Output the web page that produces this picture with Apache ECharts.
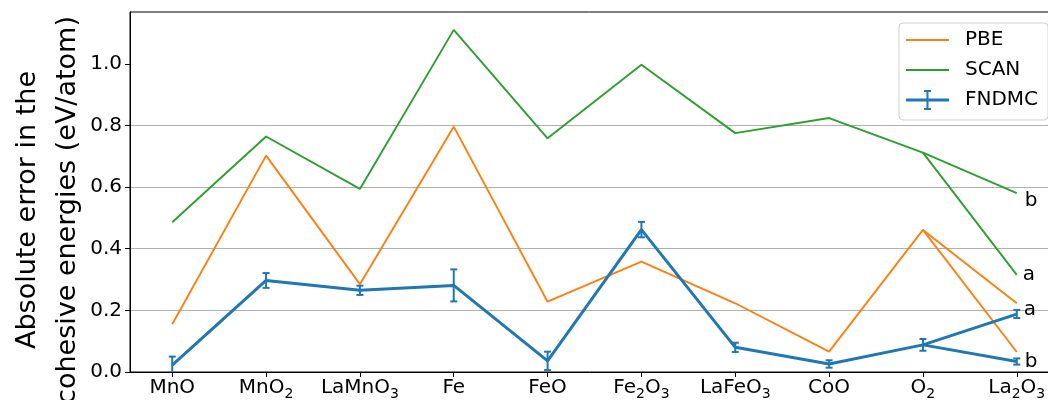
<!DOCTYPE html>
<html>
<head>
<meta charset="utf-8">
<script src="https://cdn.jsdelivr.net/npm/echarts@6/dist/echarts.min.js"></script>
<style>
  html, body { margin: 0; padding: 0; background: #fff; }
  #chart { width: 1048px; height: 400px; }
</style>
</head>
<body>
<div id="chart"></div>
<script>
// Compounds along the x axis (digits are rendered as subscripts)
const categories = ['MnO', 'MnO2', 'LaMnO3', 'Fe', 'FeO', 'Fe2O3', 'LaFeO3', 'CoO', 'O2', 'La2O3'];

// Absolute cohesive-energy errors (eV/atom); last entry is La2O3 variant "a"
const pbe = [0.155, 0.702, 0.285, 0.796, 0.228, 0.358, 0.223, 0.066, 0.461, 0.223];
const scan = [0.486, 0.764, 0.594, 1.110, 0.758, 0.997, 0.775, 0.824, 0.712, 0.315];
const fndmc = [0.022, 0.297, 0.265, 0.281, 0.036, 0.462, 0.080, 0.026, 0.088, 0.188];
const fndmcErr = [0.028, 0.024, 0.015, 0.052, 0.030, 0.025, 0.015, 0.012, 0.019, 0.013];

// La2O3 variant "b"
const pbeB = 0.065;
const scanB = 0.580;
const fndmcB = 0.034;
const fndmcBErr = 0.010;

// Tags written next to the two La2O3 end points
const variantTags = ['a', 'b'];

const yTicks = [0, 0.2, 0.4, 0.6, 0.8, 1.0];

const C_PBE = '#ff7f0e';
const C_SCAN = '#2ca02c';
const C_FNDMC = '#1f77b4';
const FONT = 'DejaVu Sans';

const last = categories.length - 1;
const branch = last - 1;

function endTag(text, offset, distance) {
  if (!text) return { show: false };
  return { show: true, formatter: text, distance: distance, offset: offset,
           color: '#000', fontSize: 20, fontFamily: FONT };
}

function mainLine(values) {
  return values.map((v, i) => [i, v]);
}

function branchLine(values, endValue) {
  return [[branch, values[branch]], [last, endValue]];
}

function formula(s) {
  // turn "Fe2O3" into rich text with subscripted digits
  return s.replace(/([A-Za-z]+)|(\d+)/g, (m, a, d) => a ? '{m|' + a + '}' : '{s|' + d + '}');
}

const errData = fndmc.map((v, i) => [i, v - fndmcErr[i], v + fndmcErr[i]]);
errData.push([last, fndmcB - fndmcBErr, fndmcB + fndmcBErr]);

const chart = echarts.init(document.getElementById('chart'), null, { renderer: 'canvas' });

function line(name, color, width, data, tag, z) {
  return {
    type: 'line', name: name, color: color, z: z || 2,
    symbol: 'none', showSymbol: false, animation: false,
    lineStyle: { width: width, color: color },
    data: data,
    endLabel: tag || { show: false },
    labelLayout: { hideOverlap: false }
  };
}

chart.setOption({
  animation: false,
  textStyle: { fontFamily: FONT },
  grid: {
    left: 130, top: 12, width: 929, height: 360,
    containLabel: false, outerBoundsMode: 'none',
    show: true, borderColor: '#000', borderWidth: 1, backgroundColor: 'transparent'
  },
  xAxis: {
    type: 'value', min: -0.45, max: 9.45,
    axisLine: { show: true, onZero: false, lineStyle: { color: '#000', width: 1 } },
    axisTick: { show: true, length: 5, lineStyle: { color: '#000' },
                customValues: categories.map((c, i) => i) },
    splitLine: { show: false },
    axisLabel: {
      customValues: categories.map((c, i) => i),
      margin: 3,
      color: '#000',
      formatter: v => formula(categories[Math.round(v)]),
      rich: {
        m: { fontSize: 20, fontFamily: FONT, color: '#000', lineHeight: 26 },
        s: { fontSize: 14, fontFamily: FONT, color: '#000', verticalAlign: 'bottom', height: 14 }
      }
    }
  },
  yAxis: {
    type: 'value', min: 0, max: 1.168, interval: 0.2,
    axisLine: { show: true, onZero: false, lineStyle: { color: '#000', width: 1 } },
    axisTick: { show: true, length: 5, lineStyle: { color: '#000' }, customValues: yTicks },
    axisLabel: {
      customValues: yTicks, margin: 8, color: '#000', fontSize: 20, fontFamily: FONT,
      formatter: v => v.toFixed(1)
    },
    splitLine: { show: true, showMinLine: false, showMaxLine: false,
                 lineStyle: { color: '#b0b0b0', width: 1.1 } }
  },
  legend: {
    orient: 'vertical', left: 899, top: 23,
    padding: [7, 10, 10, 7], itemGap: 10, itemWidth: 43, itemHeight: 20,
    backgroundColor: 'rgba(255,255,255,0.8)', borderColor: '#d0d0d0', borderWidth: 1, borderRadius: 4,
    textStyle: { fontSize: 20, fontFamily: FONT, color: '#000', lineHeight: 20, padding: [0, 0, 0, 11] },
    data: [
      { name: 'PBE', icon: 'path://M0,0H43V1.8H0Z', itemStyle: { color: C_PBE, borderWidth: 0 } },
      { name: 'SCAN', icon: 'path://M0,0H43V1.8H0Z', itemStyle: { color: C_SCAN, borderWidth: 0 } },
      { name: 'FNDMC',
        icon: 'path://M0,8.6H43V11.4H0Z M20.5,0H22.5V20H20.5Z M18,0H25V2H18Z M18,18H25V20H18Z',
        itemStyle: { color: C_FNDMC, borderWidth: 0 } }
    ]
  },
  graphic: [{
    type: 'text', x: 48, y: 210, rotation: Math.PI / 2, silent: true,
    style: {
      text: 'Absolute error in the\ncohesive energies (eV/atom)',
      font: '27px "DejaVu Sans"', lineHeight: 40, fill: '#000',
      align: 'center', verticalAlign: 'middle'
    }
  }],
  series: [
    line('PBE', C_PBE, 1.9, mainLine(pbe), endTag(variantTags[0], [0, 7], 7)),
    line('PBE', C_PBE, 1.9, branchLine(pbe, pbeB)),
    line('SCAN', C_SCAN, 1.9, mainLine(scan), endTag(variantTags[0], [0, 0], 6)),
    line('SCAN', C_SCAN, 1.9, branchLine(scan, scanB), endTag(variantTags[1], [0, 8], 8)),
    line('FNDMC', C_FNDMC, 3, mainLine(fndmc), null, 3),
    line('FNDMC', C_FNDMC, 3, branchLine(fndmc, fndmcB), endTag(variantTags[1], [0, 0], 8), 3),
    {
      name: 'FNDMC', type: 'custom', z: 4, clip: true, color: C_FNDMC,
      encode: { x: 0, y: [1, 2] },
      data: errData,
      renderItem: function (params, api) {
        const x = api.value(0);
        const lo = api.coord([x, api.value(1)]);
        const hi = api.coord([x, api.value(2)]);
        const cap = 3.5;
        const style = { stroke: C_FNDMC, lineWidth: 2, fill: null };
        return {
          type: 'group',
          children: [
            { type: 'line', shape: { x1: hi[0], y1: hi[1], x2: lo[0], y2: lo[1] }, style: style },
            { type: 'line', shape: { x1: hi[0] - cap, y1: hi[1], x2: hi[0] + cap, y2: hi[1] }, style: style },
            { type: 'line', shape: { x1: lo[0] - cap, y1: lo[1], x2: lo[0] + cap, y2: lo[1] }, style: style }
          ]
        };
      }
    }
  ]
});
</script>
</body>
</html>
